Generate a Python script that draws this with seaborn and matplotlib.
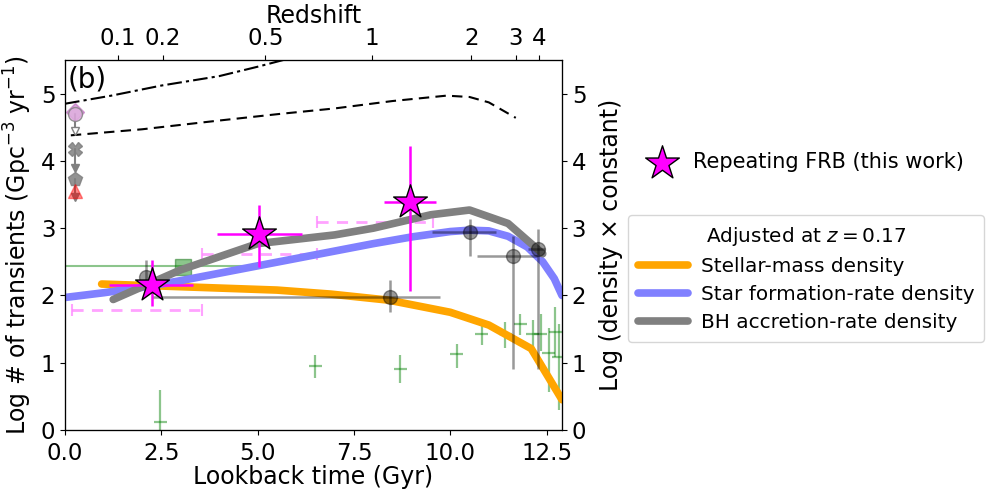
import numpy as np
import pandas as pd
import matplotlib
matplotlib.use("Agg")
import matplotlib.pyplot as plt
import seaborn as sns

# ---------------- data ----------------
# model curves (lookback time in Gyr, log value)
sm_t = [0.95, 2.5, 4.0, 5.5, 6.9, 8.4, 10.0, 11.0, 12.1, 12.9]
sm_y = [2.17, 2.14, 2.11, 2.08, 2.02, 1.93, 1.75, 1.56, 1.21, 0.45]

sfr_t = [0.0, 1.0, 2.0, 3.0, 4.0, 5.0, 6.0, 7.0, 8.0, 9.0, 10.0, 10.5, 11.0, 11.5, 12.0, 12.4, 12.7, 12.9]
sfr_y = [1.97, 2.04, 2.12, 2.22, 2.33, 2.44, 2.55, 2.66, 2.77, 2.87, 2.95, 2.97, 2.96, 2.88, 2.72, 2.5, 2.25, 2.0]

bh_t = [1.25, 3.0, 5.0, 7.0, 8.0, 9.5, 10.5, 11.5, 12.4]
bh_y = [1.94, 2.38, 2.77, 2.9, 3.0, 3.2, 3.27, 3.07, 2.62]

dash_t = [0.15, 2.0, 4.0, 5.6, 7.0, 8.5, 9.9, 10.5, 11.0, 11.7]
dash_y = [4.38, 4.47, 4.6, 4.70, 4.78, 4.89, 4.97, 4.95, 4.87, 4.64]

dashdot_t = [0.0, 1.2, 2.5, 4.0, 5.0, 5.8]
dashdot_y = [4.85, 4.97, 5.12, 5.26, 5.40, 5.52]

# repeating FRB (this work)
frb_t = [2.25, 5.04, 8.96]
frb_y = [2.15, 2.91, 3.39]
frb_tlo = [1.10, 1.10, 0.67]
frb_thi = [1.08, 1.11, 0.68]
frb_ylo = [0.30, 0.49, 1.32]
frb_yhi = [0.37, 0.44, 0.83]

# dashed pink ranges
rng_t0 = [0.17, 3.55, 6.54]
rng_t1 = [3.55, 6.54, 9.55]
rng_y = [1.79, 2.61, 3.09]

# gray circles
gc_t = [2.1, 8.43, 10.52, 11.64, 12.29]
gc_y = [2.28, 1.97, 2.95, 2.59, 2.69]
gc_tlo = [0.0, 6.18, 1.0, 0.95, 0.26]
gc_thi = [0.0, 1.31, 0.67, 0.61, 0.18]
gc_ylo = [0.25, 0.22, 0.36, 1.68, 1.78]
gc_yhi = [0.25, 0.26, 0.18, 0.30, 0.30]

# green square with horizontal range
sq_t = [3.06]
sq_y = [2.42]
sq_line_t = [0.0, 5.2]
sq_line_y = 2.44

# green crosses
gx_t = [2.47, 6.49, 8.70, 10.17, 10.82, 11.43, 11.82, 12.14, 12.35, 12.55, 12.73, 12.81]
gx_y = [0.12, 0.95, 0.90, 1.13, 1.43, 1.43, 1.58, 1.43, 1.42, 1.14, 1.46, 1.09]
gx_ylo = [0.12, 0.18, 0.20, 0.21, 0.16, 0.21, 0.17, 0.24, 0.25, 0.57, 0.37, 0.79]
gx_yhi = [0.48, 0.17, 0.21, 0.15, 0.15, 0.17, 0.15, 0.21, 0.30, 0.37, 0.37, 0.49]

# local-universe limits near t=0
lim_t = 0.25
lim_y = [4.69, 4.17, 3.73]
lim_len = [0.25, 0.27, 0.27]
lim_markers = ["o", "X", "p"]
diamond_y = 4.72
triangle_y = 3.56

# top axis
z_labels = ["0.1", "0.2", "0.5", "1", "2", "3", "4"]
z_pos = [1.37, 2.53, 5.2, 7.97, 10.55, 11.7, 12.3]

# ---------------- plot ----------------
sns.set_style("ticks")
plt.rcParams["font.family"] = ["DejaVu Sans"]
for k in ["axes.edgecolor", "xtick.color", "ytick.color", "text.color", "axes.labelcolor"]:
    plt.rcParams[k] = "black"
plt.rcParams["mathtext.fontset"] = "dejavusans"

fig = plt.figure(figsize=(9.87, 4.95), dpi=100)
ax = fig.add_axes([0.0659, 0.1313, 0.5035, 0.7475])

FS = 16.5
LFS = 17

# model curves
df_sm = pd.DataFrame({"t": sm_t, "y": sm_y})
df_sfr = pd.DataFrame({"t": sfr_t, "y": sfr_y})
df_bh = pd.DataFrame({"t": bh_t, "y": bh_y})
sns.lineplot(data=df_sm, x="t", y="y", ax=ax, color="orange", lw=5.5,
             estimator=None, label="Stellar-mass density", zorder=3)
sns.lineplot(data=df_sfr, x="t", y="y", ax=ax, color="#8080ff", lw=5.5,
             estimator=None, label="Star formation-rate density", zorder=3)
sns.lineplot(data=df_bh, x="t", y="y", ax=ax, color="#808080", lw=5.5,
             estimator=None, label="BH accretion-rate density", zorder=3)

# black reference lines
sns.lineplot(x=dash_t, y=dash_y, ax=ax, color="black", lw=1.5, ls=(0, (5, 3)),
             estimator=None, legend=False)
sns.lineplot(x=dashdot_t, y=dashdot_y, ax=ax, color="black", lw=1.5,
             ls=(0, (7, 2, 1.5, 2)), estimator=None, legend=False)

# green square and its range
ax.plot(sq_line_t, [sq_line_y, sq_line_y], color="green", alpha=0.45, lw=1.5, zorder=2)
ax.plot(sq_t, sq_y, ls="none", marker="s", ms=11, color="green", alpha=0.45,
        mec="darkgreen", zorder=2)

# green crosses
ax.errorbar(gx_t, gx_y, yerr=[gx_ylo, gx_yhi], xerr=0.17, fmt="none",
            ecolor="green", alpha=0.45, elinewidth=1.6, zorder=2)

# dashed pink ranges
for t0, t1, yy in zip(rng_t0, rng_t1, rng_y):
    c = (t0 + t1) / 2
    eb = ax.errorbar([c], [yy], xerr=[[c - t0], [t1 - c]], fmt="none",
                     ecolor="#ff66ff", alpha=0.6, elinewidth=2, capsize=4,
                     capthick=1.5, zorder=2)
    eb[-1][0].set_linestyle((0, (4, 3)))

# gray circles
ax.errorbar(gc_t, gc_y, xerr=[gc_tlo, gc_thi], yerr=[gc_ylo, gc_yhi], fmt="o",
            color="black", ms=10, alpha=0.4, ecolor="black", elinewidth=1.8,
            mec="black", zorder=4)

# FRB stars
ax.errorbar(frb_t, frb_y, xerr=[frb_tlo, frb_thi], yerr=[frb_ylo, frb_yhi],
            fmt="none", ecolor="magenta", elinewidth=1.8, zorder=5)
star = ax.scatter(frb_t, frb_y, marker="*", s=650, color="magenta",
                  edgecolor="black", linewidth=1.0, zorder=6,
                  label="Repeating FRB (this work)")

# local limits
ax.plot([lim_t], [diamond_y], ls="none", marker="D", ms=9, color="#b050b0",
        alpha=0.5, zorder=4)
for yy, ll, mk in zip(lim_y, lim_len, lim_markers):
    if mk == "o":
        ax.plot([lim_t], [yy], ls="none", marker=mk, ms=10, color="#e0b0e0",
                mec="gray", alpha=0.8, zorder=4)
        ax.plot([lim_t, lim_t], [yy, yy - ll], color="gray", lw=1.5, zorder=3)
        ax.plot([lim_t], [yy - ll], ls="none", marker="v", ms=6, mfc="white",
                mec="gray", zorder=4)
    else:
        ax.plot([lim_t], [yy], ls="none", marker=mk, ms=10, color="gray",
                alpha=0.85, zorder=4)
        ax.plot([lim_t, lim_t], [yy, yy - ll], color="gray", lw=1.5, zorder=3)
        ax.plot([lim_t], [yy - ll], ls="none", marker="v", ms=6, color="gray",
                zorder=4)
ax.plot([lim_t], [triangle_y], ls="none", marker="^", ms=10, color="red",
        alpha=0.45, zorder=5)

ax.set_xlim(0, 12.9)
ax.set_ylim(0, 5.5)
ax.set_xticks([0, 2.5, 5.0, 7.5, 10.0, 12.5])
ax.set_xticklabels(["0.0", "2.5", "5.0", "7.5", "10.0", "12.5"])
ax.set_yticks([0, 1, 2, 3, 4, 5])
ax.tick_params(labelsize=FS)
ax.tick_params(axis="x", pad=5)
ax.set_xlabel("Lookback time (Gyr)", fontsize=LFS, labelpad=0)
ax.set_ylabel("Log # of transients (Gpc$^{-3}$ yr$^{-1}$)", fontsize=LFS, labelpad=5)
ax.text(0.005, 0.985, "(b)", transform=ax.transAxes, fontsize=20, va="top", ha="left")

# right axis
axr = ax.twinx()
axr.set_ylim(0, 5.5)
axr.set_yticks([0, 1, 2, 3, 4, 5])
axr.tick_params(labelsize=FS)
axr.set_ylabel("Log (density \u00d7 constant)", fontsize=LFS, labelpad=9)

# top axis
axt = ax.twiny()
axt.set_xlim(0, 12.9)
axt.set_xticks(z_pos)
axt.set_xticklabels(z_labels)
axt.tick_params(labelsize=FS)
axt.set_xlabel("Redshift", fontsize=LFS, labelpad=3)

# legends
handles, labels = ax.get_legend_handles_labels()
line_h = [h for h, l in zip(handles, labels) if l != "Repeating FRB (this work)"]
line_l = [l for l in labels if l != "Repeating FRB (this work)"]
if ax.get_legend():
    ax.get_legend().remove()
leg1 = fig.legend([star], ["Repeating FRB (this work)"], loc="center left",
                  bbox_to_anchor=(0.631, 1 - 162 / 495), frameon=False,
                  fontsize=15, handletextpad=0.45, scatterpoints=1)
leg2 = fig.legend(line_h, line_l, loc="upper left",
                  bbox_to_anchor=(0.632, 1 - 211 / 495), frameon=True,
                  fontsize=14.4, title="Adjusted at $z = 0.17$",
                  title_fontsize=14.4, handlelength=2.5, borderpad=0.5,
                  labelspacing=0.45, handletextpad=0.65, borderaxespad=0.2)
for lh in leg2.get_lines():
    lh.set_linewidth(5.5)

fig.savefig("out.png", dpi=100)
